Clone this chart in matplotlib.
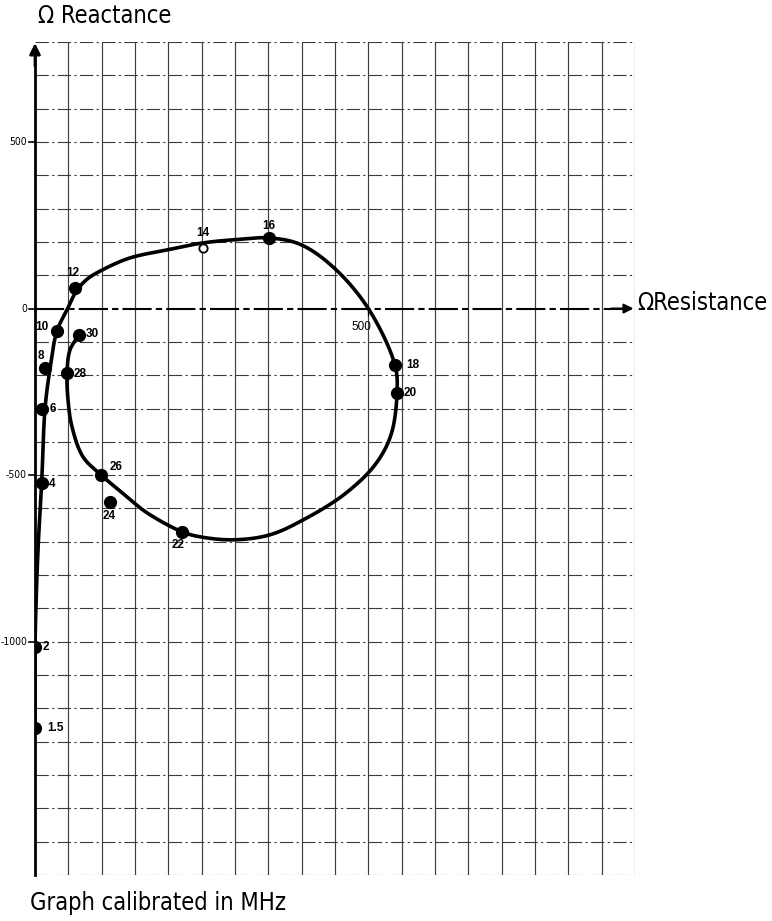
import numpy as np
import matplotlib
matplotlib.use("Agg")
import matplotlib.pyplot as plt

# ---- data ----
# resistance (ohm), reactance (ohm) of the measured frequency points (MHz)
freq_labels = ["1.5", "2", "4", "6", "8", "10", "12", "14", "16", "18", "20", "22", "24", "26", "28", "30"]
res_pts = [0, 0, 10.5, 10.5, 15, 33, 60, 252, 351, 540, 543, 220.5, 112.5, 99, 48, 66]
rea_pts = [-1260, -1015, -523, -301, -178, -67, 62, 182, 212, -170, -254, -670, -580, -499, -193, -79]
filled = [True] * 16
filled[7] = False  # 14 MHz drawn as open circle

# hand-drawn locus (points along the drawn curve)
curve_r = [0, 0, 4.5, 10, 15, 22.5, 33, 48, 62, 78, 102, 142.5, 198, 252, 301.5, 351,
           397.5, 447, 500, 540, 543, 534, 510, 465, 408, 352.5, 297, 247.5,
           220.5, 168, 138, 99, 72, 55.5, 49.5, 48, 52.5, 66]
curve_x = [-1260, -1015, -724, -523, -301, -181, -67, -4, 52, 88, 117, 152, 176, 197, 207, 212,
           193, 125, 0, -170, -254, -379, -469, -556, -628, -679, -694, -685,
           -670, -613, -565, -499, -445, -355, -274, -193, -124, -79]

# label offsets in pixels (dx, dy, ha)
label_off = [(12, 0, "left"), (8, 0, "left"), (7, -1, "left"), (8, 0, "left"), (-4, 12, "center"),
             (-15, 4, "center"), (-2, 15, "center"), (0, 15, "center"), (0, 12, "center"), (11, 0, "left"),
             (7, 0, "left"), (-4, -13, "center"), (-1, -14, "center"), (15, 8, "center"), (7, -1, "left"),
             (7, 1, "left")]

yticks = [500, 0, -500, -1000]
ytick_labels = ["500", "0", "-500", "-1000"]

XMIN, XMAX, YMIN, YMAX = 0, 900, -1700, 800
XSTEP, YSTEP = 50, 100


def catmull_rom(x, y, sx, sy, n=16, alpha=0.5):
    # centripetal Catmull-Rom computed in (roughly) screen-proportional units
    p = np.column_stack([np.asarray(x) / sx, np.asarray(y) / sy]).astype(float)
    p = np.vstack([2 * p[0] - p[1], p, 2 * p[-1] - p[-2]])
    out = []
    for i in range(1, len(p) - 2):
        P0, P1, P2, P3 = p[i - 1], p[i], p[i + 1], p[i + 2]
        t0 = 0.0
        t1 = t0 + max(np.linalg.norm(P1 - P0), 1e-6) ** alpha
        t2 = t1 + max(np.linalg.norm(P2 - P1), 1e-6) ** alpha
        t3 = t2 + max(np.linalg.norm(P3 - P2), 1e-6) ** alpha
        t = np.linspace(t1, t2, n, endpoint=False)[:, None]
        A1 = (t1 - t) / (t1 - t0) * P0 + (t - t0) / (t1 - t0) * P1
        A2 = (t2 - t) / (t2 - t1) * P1 + (t - t1) / (t2 - t1) * P2
        A3 = (t3 - t) / (t3 - t2) * P2 + (t - t2) / (t3 - t2) * P3
        B1 = (t2 - t) / (t2 - t0) * A1 + (t - t0) / (t2 - t0) * A2
        B2 = (t3 - t) / (t3 - t1) * A2 + (t - t1) / (t3 - t1) * A3
        C = (t2 - t) / (t2 - t1) * B1 + (t - t1) / (t2 - t1) * B2
        out.append(C)
    out.append(p[-2][None, :])
    out = np.vstack(out)
    return out[:, 0] * sx, out[:, 1] * sy


big = ["DejaVu Sans"]
small = ["Liberation Sans", "DejaVu Sans"]

fig = plt.figure(figsize=(7.72, 9.21), dpi=100)
W, H = 772, 921
ax = fig.add_axes([35 / W, 1 - 875 / H, 600 / W, 833 / H])
ax.set_xlim(XMIN, XMAX)
ax.set_ylim(YMIN, YMAX)
for s in ax.spines.values():
    s.set_visible(False)
ax.set_xticks([])
ax.set_yticks([])

# grid
for xv in np.arange(XMIN + XSTEP, XMAX + 1, XSTEP):
    ax.axvline(xv, color="#404040", lw=0.85, zorder=1)
for yv in np.arange(YMIN, YMAX + 1, YSTEP):
    if yv == 0:
        continue
    ax.axhline(yv, color="#3a3a3a", lw=0.8, ls=(0, (12, 3, 2, 3)), zorder=1)

# axes with arrows
ax.plot([0, 0], [YMIN, YMAX - 40], color="black", lw=2.0, zorder=3, clip_on=False)
ax.annotate("", xy=(0, YMAX + 5), xytext=(0, YMAX - 80),
            arrowprops=dict(arrowstyle="-|>", color="black", lw=2.0, mutation_scale=16), zorder=3,
            annotation_clip=False)
ax.plot([0, XMAX - 20], [0, 0], color="black", lw=1.5, ls=(0, (14, 2, 3, 2)), zorder=3)
ax.annotate("", xy=(XMAX + 2, 0), xytext=(XMAX - 40, 0),
            arrowprops=dict(arrowstyle="-|>", color="black", lw=1.5, mutation_scale=14), zorder=3,
            annotation_clip=False)

# y ticks and labels
for yv, lab in zip(yticks, ytick_labels):
    ax.plot([-9, 0], [yv, yv], color="black", lw=1.2, clip_on=False, zorder=3)
    ax.annotate(lab, xy=(0, yv), xytext=(-8, 0), textcoords="offset pixels", ha="right", va="center",
                fontsize=7.5, family=["DejaVu Sans"], fontstretch="condensed",
                annotation_clip=False)

# 500 label on resistance axis
ax.plot([500, 500], [0, -18], color="black", lw=0.9, zorder=3)
ax.annotate("500", xy=(500, 0), xytext=(-7, -18), textcoords="offset pixels", ha="center", va="center",
            fontsize=8.5, family=small)

# locus curve
cx, cy = catmull_rom(curve_r, curve_x, 1.5, 3.0)
ax.plot(cx, cy, color="black", lw=2.6, solid_capstyle="round", solid_joinstyle="round", zorder=4)

# points
for r, x, f in zip(res_pts, rea_pts, filled):
    if f:
        ax.plot(r, x, "o", ms=8.5, color="black", zorder=5)
    else:
        ax.plot(r, x, "o", ms=6, mfc="white", mec="black", mew=1.3, zorder=5)

for lab, r, x, (dx, dy, ha) in zip(freq_labels, res_pts, rea_pts, label_off):
    ax.annotate(lab, xy=(r, x), xytext=(dx, dy), textcoords="offset pixels", ha=ha, va="center",
                fontsize=8.5, family=small, fontweight="bold", zorder=6)

fig.text(38 / W, 1 - 16 / H, "\u03a9 Reactance", fontsize=17, family=big, fontstretch="condensed",
         ha="left", va="center")
fig.text(637 / W, 1 - 303 / H, "\u03a9Resistance", fontsize=17, family=big, fontstretch="condensed",
         ha="left", va="center")
fig.text(30 / W, 1 - 903 / H, "Graph calibrated in MHz", fontsize=17, family=big, fontstretch="condensed",
         ha="left", va="center")

fig.savefig("out.png", dpi=100, facecolor="white")
